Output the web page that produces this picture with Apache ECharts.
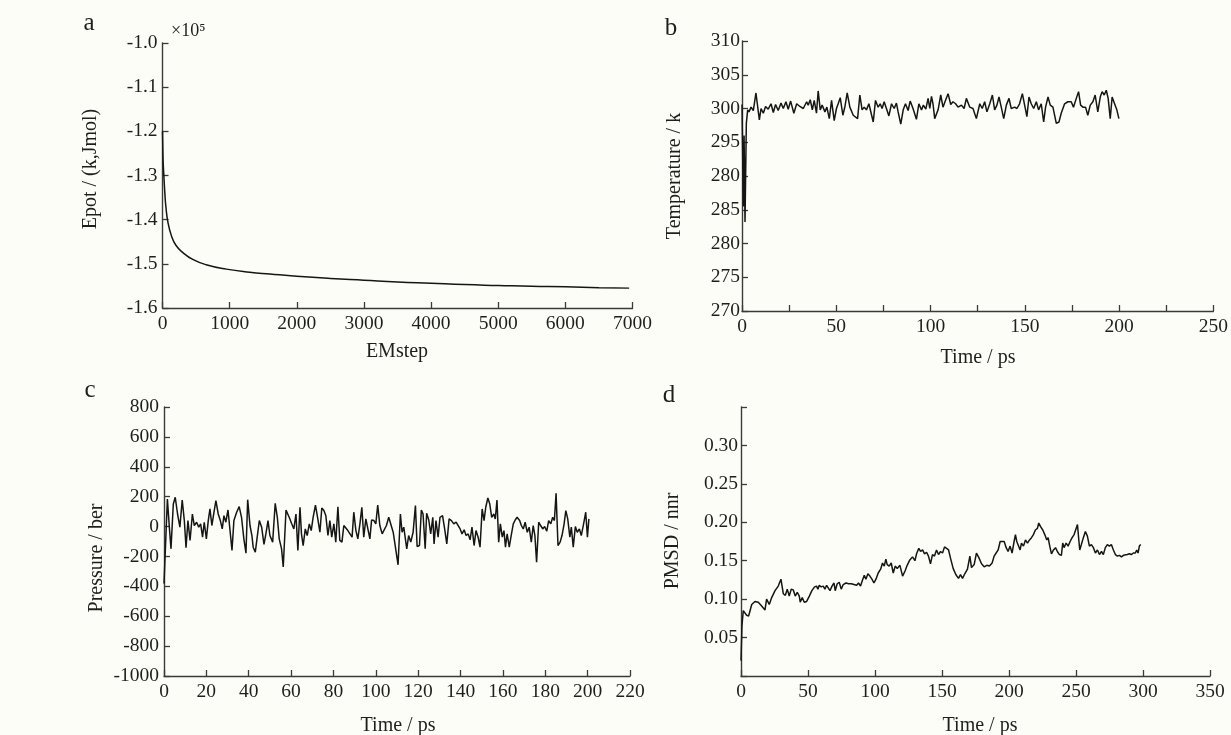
<!DOCTYPE html>
<html>
<head>
<meta charset="utf-8">
<script src="https://cdn.jsdelivr.net/npm/echarts@6/dist/echarts.min.js"></script>
<style>
html,body{margin:0;padding:0;background:#fdfdf8;}
#chart{width:1231px;height:735px;}
</style>
</head>
<body>
<div id="chart"></div>
<script>
// ---------- Panel a: energy minimisation ----------
const stepA = [0, 5, 10, 20, 35, 50, 80, 130, 200, 300, 450, 650, 950, 1300, 1600, 2000, 2500, 3000, 3500, 4000, 4500, 5000, 5500, 6000, 6500, 6950];
const epotA = [-1.20, -1.24, -1.27, -1.30, -1.34, -1.37, -1.405, -1.435, -1.458, -1.474, -1.49, -1.502, -1.512, -1.519, -1.523, -1.528, -1.533, -1.537, -1.541, -1.544, -1.547, -1.549, -1.551, -1.552, -1.554, -1.555];
const yTicksA = ['-1.6', '-1.5', '-1.4', '-1.3', '-1.2', '-1.1', '-1.0'];

// ---------- Panel b: temperature ----------
const timeB = [0, 0.7, 1.1, 1.6, 2.3, 3.0, 3.7, 4.8, 6.0, 7.4, 9.2, 10.1, 11.3, 12.5, 13.9, 15.4, 16.6, 17.8, 19.2, 20.7,
  21.9, 23.3, 24.5, 25.8, 27.5, 29.0, 30.7, 32.5, 34.3, 35.1, 36.2, 37.3, 38.3, 39.5, 40.4, 41.5, 42.5, 44.0, 45.0, 46.3,
  47.5, 48.9, 50.1, 51.0, 52.1, 53.5, 54.6, 55.8, 57.2, 59.0, 61.3, 62.5, 63.7, 64.8, 66.0, 67.3, 68.3, 69.6, 70.8, 72.2,
  73.3, 74.3, 75.4, 76.6, 77.9, 79.3, 80.7, 81.9, 82.8, 84.2, 85.5, 86.7, 88.1, 89.2, 90.7, 92.5, 93.8, 95.2, 96.2, 97.5,
  98.7, 99.6, 100.5, 101.3, 102.2, 104.0, 105.4, 106.6, 107.9, 109.3, 110.7, 111.9, 113.3, 114.6, 116.4, 117.8, 119.0, 120.8, 122.5, 124.3,
  126.1, 127.4, 128.7, 129.9, 131.4, 132.8, 134.0, 135.2, 136.3, 137.5, 138.8, 140.2, 141.6, 142.8, 144.6, 145.8, 147.2, 148.7, 149.9, 151.1,
  152.2, 153.4, 154.7, 156.1, 157.3, 158.7, 160.0, 161.0, 162.3, 163.5, 164.9, 166.7, 168.1, 169.3, 171.1, 172.8, 174.6, 175.8, 177.3, 178.5,
  179.6, 180.8, 182.2, 183.4, 184.7, 186.1, 187.3, 188.7, 190.0, 191.0, 192.1, 193.2, 194.2, 195.3, 196.3, 197.6, 198.8, 199.9];
const tempB = [300.6, 285.5, 296.0, 283.2, 297.8, 299.8, 299.5, 300.2, 299.7, 302.3, 298.3, 300.0, 299.3, 300.3, 299.9, 300.7, 299.4, 300.6, 299.7, 300.8,
  300.0, 301.0, 299.9, 301.1, 299.3, 300.7, 300.3, 300.0, 301.0, 300.5, 301.3, 299.8, 301.2, 299.3, 302.6, 299.8, 300.5, 299.5, 300.2, 298.5,
  301.2, 298.2, 300.0, 300.7, 301.6, 299.0, 300.3, 302.3, 300.2, 299.0, 298.5, 302.0, 299.8, 300.2, 299.8, 300.7, 300.5, 298.0, 301.2, 300.2,
  300.7, 300.0, 301.0, 300.0, 298.9, 300.7, 300.0, 300.8, 299.5, 297.7, 299.8, 300.7, 299.7, 301.1, 300.0, 298.4, 300.7, 299.8, 300.5, 299.9,
  301.5, 300.0, 301.8, 300.7, 298.5, 299.8, 302.0, 300.2, 301.2, 302.2, 300.6, 301.0, 300.7, 300.2, 300.5, 300.0, 301.5, 300.2, 300.0, 298.5,
  300.7, 300.0, 301.0, 299.5, 300.7, 302.0, 299.8, 300.5, 301.7, 300.2, 298.5, 300.5, 301.5, 300.0, 300.2, 300.0, 300.7, 302.2, 300.5, 298.8,
  301.7, 300.7, 300.0, 301.0, 299.8, 300.7, 298.0, 300.2, 301.7, 300.5, 300.2, 297.8, 298.0, 299.3, 300.7, 301.0, 301.0, 300.2, 301.5, 302.5,
  300.5, 300.2, 300.2, 299.0, 300.5, 301.0, 302.0, 299.5, 301.7, 302.5, 302.0, 302.7, 301.5, 298.5, 301.7, 300.7, 299.8, 298.5];
// the printed tick labels of panel b (bottom to top), kept as printed
const yTicksB = ['270', '275', '280', '285', '280', '295', '300', '305', '310'];

// ---------- Panel c: pressure ----------
const timeC = [0, 1.6, 2.5, 3.3, 4.4, 5.3, 6.4, 7.5, 8.6, 9.6, 10.4, 11.3, 12.3, 13.4, 14.3, 15.4, 16.4, 17.3, 18.2, 19.0,
  20.0, 20.9, 21.7, 22.6, 23.6, 24.5, 25.6, 26.6, 27.5, 28.3, 29.2, 30.2, 31.1, 32.1, 33.0, 34.3, 35.5, 36.6, 37.7, 38.7,
  39.5, 40.6, 41.5, 42.1, 43.1, 44.0, 45.0, 46.1, 47.2, 48.1, 49.1, 50.0, 51.3, 52.5, 53.5, 54.4, 55.5, 56.3, 57.6, 59.1,
  60.2, 61.3, 62.3, 63.2, 64.2, 64.9, 65.7, 66.7, 67.6, 68.6, 69.5, 70.4, 71.5, 72.5, 73.6, 74.5, 75.5, 76.4, 77.4, 78.3,
  79.2, 80.2, 81.1, 82.1, 83.0, 84.0, 84.9, 85.8, 86.8, 87.7, 88.8, 89.6, 90.6, 91.5, 92.5, 93.4, 94.3, 95.3, 96.2, 97.2,
  98.0, 99.1, 100.0, 100.9, 101.9, 103.0, 103.9, 105.0, 106.1, 108.2, 110.5, 111.6, 112.4, 113.2, 114.6, 115.5, 116.5, 117.6, 118.7, 119.5,
  120.6, 121.5, 122.3, 123.3, 124.0, 125.0, 125.9, 126.9, 127.5, 128.4, 129.4, 130.3, 131.5, 132.5, 133.5, 134.6, 135.7, 136.8, 137.9, 138.8,
  139.8, 140.7, 141.7, 142.6, 143.6, 144.5, 145.4, 146.4, 147.3, 148.3, 149.2, 150.2, 151.1, 151.9, 152.9, 153.8, 154.7, 155.7, 156.4, 157.2,
  158.0, 158.8, 159.7, 160.5, 161.2, 162.0, 163.0, 163.9, 164.9, 165.8, 166.7, 167.9, 168.7, 169.6, 170.5, 171.5, 172.4, 173.4, 174.3, 175.1,
  175.9, 176.9, 177.8, 178.8, 179.7, 180.7, 181.6, 182.6, 183.5, 184.3, 185.1, 186.0, 187.0, 187.9, 188.9, 189.7, 190.6, 191.6, 192.3, 193.2,
  194.2, 195.1, 196.1, 197.0, 198.1, 199.1, 199.9, 200.6];
const presC = [-382, 184, 0, -149, 151, 196, 84, -4, 178, 40, -142, 40, -93, 84, 7, 29, -4, 18, -71, 29,
  -82, 40, 118, 7, 96, 173, 84, 40, -16, 73, 29, 111, -16, -160, 40, 96, 133, 62, -82, -178,
  180, 7, -60, -138, -171, -71, 40, -4, -120, -49, 40, -60, -104, 156, 62, -82, -149, -271, 110, 62,
  22, -16, 84, -160, 129, -49, -127, -16, -60, 18, -27, 62, 144, 62, -38, 124, 107, 73, -60, 40,
  -71, 18, -104, 133, -93, -104, 7, -4, -27, -16, -71, 96, -27, -82, 18, 129, -71, 51, 40, -82,
  44, 40, 18, 144, 7, -49, -38, 7, 62, -38, -256, 84, -38, -4, -149, -60, -104, -38, 140, -133,
  -127, 111, 84, -149, 89, 44, -49, 62, -116, 40, -71, 62, 73, -16, -116, 51, 40, 18, 29, 18,
  -16, -49, -22, -60, -49, -89, -4, -127, -27, -71, -138, 118, 40, 129, 191, 151, 62, 84, 51, 178,
  -104, 18, -71, -27, -138, -49, -138, -60, 18, 44, 62, 40, 7, -16, 29, -38, -4, -104, 7, -60,
  -238, 29, 7, -16, 0, -31, 40, 18, 62, 40, 222, -127, -104, -60, 18, 107, 51, -71, -4, -138,
  0, -38, -16, -60, 18, 96, -71, 51];

// ---------- Panel d: PMSD ----------
const timeD = [0, 0.7, 1.7, 4.2, 5.7, 8.0, 10.4, 12.9, 15.4, 17.9, 19.1, 21.1, 22.9, 25.4, 27.8, 29.8, 31.6, 33.1, 34.5, 36.0,
  37.5, 39.0, 40.5, 42.0, 43.5, 44.2, 45.7, 47.2, 49.0, 51.0, 52.9, 54.9, 56.4, 57.4, 58.4, 59.9, 61.4, 62.6, 63.9, 65.1,
  66.4, 67.9, 69.4, 70.3, 71.8, 73.3, 74.8, 76.3, 78.3, 80.3, 82.3, 84.3, 86.3, 87.7, 89.2, 90.5, 92.0, 93.2, 94.7, 96.2,
  97.7, 99.2, 100.7, 102.4, 104.2, 105.6, 106.9, 108.1, 109.1, 110.6, 112.1, 113.6, 115.1, 116.6, 118.6, 120.6, 122.5, 124.0, 126.0, 128.0,
  129.8, 131.0, 132.7, 134.0, 135.5, 137.0, 138.5, 139.9, 141.4, 142.9, 144.4, 145.9, 147.4, 148.9, 150.4, 151.9, 153.4, 154.9, 156.4, 158.3,
  160.3, 162.3, 163.8, 165.3, 167.0, 169.0, 170.8, 172.0, 174.0, 175.7, 177.5, 179.5, 181.5, 183.4, 185.4, 187.4, 188.9, 190.4, 191.9, 193.4,
  194.9, 196.4, 197.9, 199.3, 200.8, 202.3, 203.8, 204.8, 205.8, 206.8, 208.3, 209.3, 210.8, 212.3, 213.8, 215.3, 216.8, 218.2, 219.7, 221.2,
  222.2, 223.7, 225.2, 226.7, 228.2, 229.2, 230.4, 231.7, 233.2, 234.7, 236.1, 237.6, 239.1, 240.1, 241.1, 242.6, 244.1, 245.6, 247.1, 248.6,
  250.1, 251.1, 252.1, 252.8, 254.0, 255.5, 257.0, 258.5, 260.0, 261.5, 263.0, 264.5, 266.0, 267.5, 269.0, 270.4, 271.9, 273.4, 274.9, 276.4,
  277.9, 279.4, 280.9, 282.4, 283.9, 285.4, 286.8, 288.3, 289.8, 291.3, 292.8, 294.3, 295.3, 296.3, 297.3, 298.3];
const pmsdD = [0.020, 0.065, 0.085, 0.079, 0.078, 0.093, 0.097, 0.096, 0.091, 0.086, 0.100, 0.093, 0.102, 0.111, 0.117, 0.126, 0.107, 0.105, 0.113, 0.104,
  0.113, 0.112, 0.104, 0.109, 0.104, 0.096, 0.102, 0.096, 0.097, 0.104, 0.111, 0.116, 0.117, 0.113, 0.118, 0.116, 0.117, 0.113, 0.118, 0.116,
  0.111, 0.117, 0.121, 0.111, 0.120, 0.122, 0.113, 0.119, 0.121, 0.120, 0.120, 0.119, 0.118, 0.121, 0.117, 0.124, 0.131, 0.126, 0.133, 0.130,
  0.126, 0.121, 0.126, 0.134, 0.139, 0.147, 0.143, 0.152, 0.145, 0.143, 0.147, 0.134, 0.143, 0.140, 0.144, 0.130, 0.137, 0.144, 0.151, 0.155,
  0.150, 0.159, 0.166, 0.162, 0.164, 0.159, 0.161, 0.156, 0.146, 0.158, 0.156, 0.164, 0.158, 0.162, 0.160, 0.168, 0.166, 0.164, 0.153, 0.140,
  0.132, 0.127, 0.132, 0.127, 0.133, 0.139, 0.156, 0.141, 0.145, 0.160, 0.154, 0.146, 0.142, 0.144, 0.143, 0.147, 0.156, 0.160, 0.164, 0.175,
  0.175, 0.175, 0.167, 0.162, 0.169, 0.160, 0.175, 0.184, 0.175, 0.177, 0.164, 0.173, 0.169, 0.177, 0.173, 0.177, 0.180, 0.184, 0.190, 0.192,
  0.199, 0.194, 0.190, 0.184, 0.177, 0.180, 0.169, 0.159, 0.164, 0.167, 0.162, 0.158, 0.157, 0.173, 0.167, 0.173, 0.169, 0.175, 0.180, 0.184,
  0.192, 0.197, 0.177, 0.164, 0.171, 0.180, 0.188, 0.182, 0.169, 0.171, 0.167, 0.160, 0.164, 0.158, 0.162, 0.158, 0.167, 0.171, 0.169, 0.171,
  0.164, 0.158, 0.156, 0.157, 0.155, 0.157, 0.158, 0.158, 0.159, 0.158, 0.160, 0.160, 0.164, 0.160, 0.169, 0.171];

// ---------- texts ----------
const panelLetters = ['a', 'b', 'c', 'd'];
const yTitles = ['Epot / (k,Jmol)', 'Temperature / k', 'Pressure / ber', 'PMSD / nnr'];
const xTitles = ['EMstep', 'Time / ps', 'Time / ps', 'Time / ps'];
const scaleNote = '×10⁵';

// ---------- build ----------
const FONT = '"Liberation Serif", "Times New Roman", serif';
const INK = '#1e1e1e';
const AXIS = '#3a3a3a';
const zip = (xs, ys) => xs.map((x, i) => [x, ys[i]]);

function xAxis(gi, min, max, interval, fmt) {
  return {
    type: 'value', gridIndex: gi, min, max, interval,
    axisLine: { show: true, onZero: false, lineStyle: { color: AXIS, width: 1.4 } },
    axisTick: { show: true, inside: true, length: 6, lineStyle: { color: AXIS, width: 1.3 } },
    axisLabel: { color: INK, fontFamily: FONT, fontSize: 19.5, margin: 6, formatter: fmt },
    splitLine: { show: false }
  };
}
function yAxis(gi, min, max, interval, fmt, margin) {
  return {
    type: 'value', gridIndex: gi, min, max, interval,
    axisLine: { show: true, onZero: false, lineStyle: { color: AXIS, width: 1.4 } },
    axisTick: { show: true, inside: true, length: 6, lineStyle: { color: AXIS, width: 1.3 } },
    axisLabel: { color: INK, fontFamily: FONT, fontSize: 19.5, margin, formatter: fmt },
    splitLine: { show: false }
  };
}
function line(gi, data, smooth) {
  return {
    type: 'line', xAxisIndex: gi, yAxisIndex: gi, data, smooth: !!smooth,
    showSymbol: false, symbol: 'none', animation: false,
    lineStyle: { color: '#151515', width: 1.5 }
  };
}
function txt(x, y, text, size, rot) {
  return {
    type: 'text', x, y, rotation: rot || 0, silent: true,
    style: { text, fill: INK, font: size + 'px ' + FONT, align: 'center', verticalAlign: 'middle' }
  };
}

const grids = [
  { left: 162.5, top: 43, width: 470, height: 265 },
  { left: 742, top: 41, width: 472, height: 270 },
  { left: 164, top: 407, width: 466, height: 269 },
  { left: 741, top: 407, width: 469, height: 269 }
];

const option = {
  backgroundColor: '#fdfdf8',
  animation: false,
  grid: grids.map(g => Object.assign({ containLabel: false }, g)),
  xAxis: [
    xAxis(0, 0, 7000, 1000, v => String(Math.round(v))),
    xAxis(1, 0, 250, 25, v => (Math.round(v) % 50 === 0 ? String(Math.round(v)) : '')),
    xAxis(2, 0, 220, 20, v => String(Math.round(v))),
    xAxis(3, 0, 350, 50, v => String(Math.round(v)))
  ],
  yAxis: [
    yAxis(0, -1.6, -1.0, 0.1, v => yTicksA[Math.round((v + 1.6) / 0.1)], 5),
    yAxis(1, 270, 310, 5, v => yTicksB[Math.round((v - 270) / 5)], 2),
    yAxis(2, -1000, 800, 200, v => String(Math.round(v)), 5),
    yAxis(3, 0, 0.35, 0.05, v => {
      const k = Math.round(v / 0.05);
      return (k === 0 || k === 7) ? '' : (k * 0.05).toFixed(2);
    }, 3)
  ],
  series: [
    line(0, zip(stepA, epotA), true),
    line(1, zip(timeB, tempB)),
    line(2, zip(timeC, presC)),
    line(3, zip(timeD, pmsdD))
  ],
  graphic: [
    txt(89, 23, panelLetters[0], 25),
    txt(671, 28, panelLetters[1], 25),
    txt(90, 390, panelLetters[2], 25),
    txt(669, 395, panelLetters[3], 25),
    { type: 'text', x: 171, y: 31, silent: true,
      style: { text: scaleNote, fill: INK, font: '18px ' + FONT, align: 'left', verticalAlign: 'middle' } },
    txt(90.6, 169, yTitles[0], 20, Math.PI / 2),
    txt(674.4, 176, yTitles[1], 20, Math.PI / 2),
    txt(97, 558, yTitles[2], 20, Math.PI / 2),
    txt(672.5, 541, yTitles[3], 20, Math.PI / 2),
    txt(397, 352, xTitles[0], 20),
    txt(978, 358, xTitles[1], 20),
    txt(398, 726, xTitles[2], 20),
    txt(980, 726, xTitles[3], 20)
  ]
};

const chart = echarts.init(document.getElementById('chart'), null, { renderer: 'canvas' });
chart.setOption(option);
</script>
</body>
</html>
